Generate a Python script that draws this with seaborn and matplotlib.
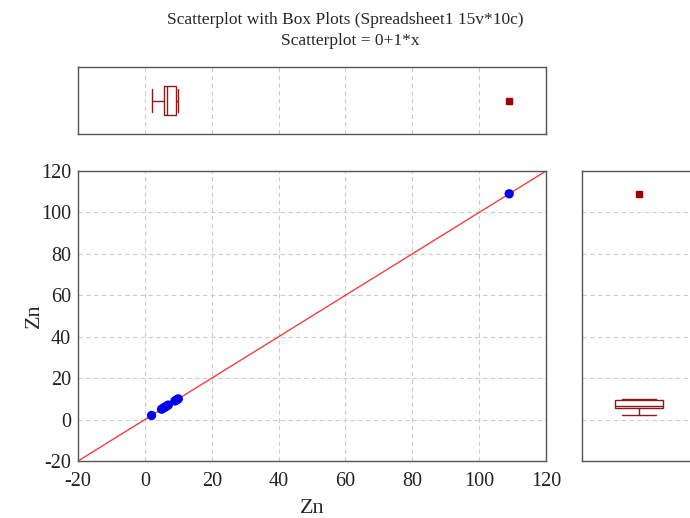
import matplotlib
matplotlib.use("Agg")
import matplotlib.pyplot as plt
import seaborn as sns
import numpy as np
import pandas as pd

# Data (Zn, 10 cases)
zn = [2, 5, 5.5, 6, 6.5, 7, 9, 9.5, 10, 109]
intercept = 0
slope = 1
ticks = [-20, 0, 20, 40, 60, 80, 100, 120]
title1 = "Scatterplot with Box Plots (Spreadsheet1 15v*10c)"
title2 = "Scatterplot = 0+1*x"
xlabel = "Zn"
ylabel = "Zn"

df = pd.DataFrame({"x": zn, "y": zn})

sns.set_style("white")
plt.rcParams["font.family"] = ["Liberation Serif", "DejaVu Serif"]
plt.rcParams["axes.unicode_minus"] = False

W, H = 690, 518
fig = plt.figure(figsize=(W / 100, H / 100), dpi=100)

def rect(l, t, r, b):
    return [l / W, 1 - b / H, (r - l) / W, (b - t) / H]

ax = fig.add_axes(rect(78, 171, 546, 461))
ax_top = fig.add_axes(rect(78, 67, 546, 134))
ax_right = fig.add_axes(rect(582, 171, 696, 461))

box_col = "#8B1A1A"
spine_col = "#555555"
grid_kw = dict(color="#cccccc", linestyle=(0, (4, 3)), linewidth=0.8)

# main scatter
ax.axline((0, intercept), slope=slope, color="#F04040", lw=1.0, zorder=2)
sns.scatterplot(data=df, x="x", y="y", ax=ax, color="#0000F0", s=45,
                edgecolor="none", zorder=3, legend=False)
ax.set_xlim(-20, 120)
ax.set_ylim(-20, 120)
ax.set_xticks(ticks)
ax.set_yticks(ticks)
ax.tick_params(direction="in", length=4, labelsize=14.5, colors="#222222")
ax.tick_params(axis="x", pad=8)
ax.tick_params(axis="y", pad=5)
ax.grid(True, **grid_kw)
ax.set_axisbelow(True)
ax.set_xlabel(xlabel, fontsize=16, labelpad=6)
ax.set_ylabel(ylabel, fontsize=16, labelpad=-2)

flier = dict(marker="s", markerfacecolor="#990000", markeredgecolor="#990000",
             markersize=5)

# top box plot
sns.boxplot(x=df["x"], ax=ax_top, orient="h", width=0.42, color="white",
            linecolor=box_col, linewidth=1.0, flierprops=flier, whis=1.5,
            capwidths=0.34)
ax_top.set_xlim(-20, 120)
ax_top.set_ylim(0.5, -0.5)
ax_top.set_xticks(ticks)
ax_top.set_yticks([])
ax_top.set_xlabel("")
ax_top.set_ylabel("")
ax_top.tick_params(length=0, labelbottom=False, labelleft=False)
ax_top.grid(True, axis="x", **grid_kw)
ax_top.set_axisbelow(True)

# right box plot
sns.boxplot(y=df["y"], ax=ax_right, orient="v", width=0.42, color="white",
            linecolor=box_col, linewidth=1.0, flierprops=flier, whis=1.5,
            capwidths=0.3)
ax_right.set_ylim(-20, 120)
ax_right.set_xlim(-0.5, 0.5)
ax_right.set_yticks(ticks)
ax_right.set_xticks([])
ax_right.set_xlabel("")
ax_right.set_ylabel("")
ax_right.tick_params(length=0, labelbottom=False, labelleft=False)
ax_right.grid(True, axis="y", **grid_kw)
ax_right.set_axisbelow(True)

for a in (ax, ax_top, ax_right):
    for s in a.spines.values():
        s.set_color(spine_col)
        s.set_linewidth(1.0)
        s.set_visible(True)

fig.text(0.5, 1 - 20 / H, title1, ha="center", va="center", fontsize=12.5)
fig.text(0.508, 1 - 41 / H, title2, ha="center", va="center", fontsize=12.5)

fig.savefig("out.png", dpi=100)
